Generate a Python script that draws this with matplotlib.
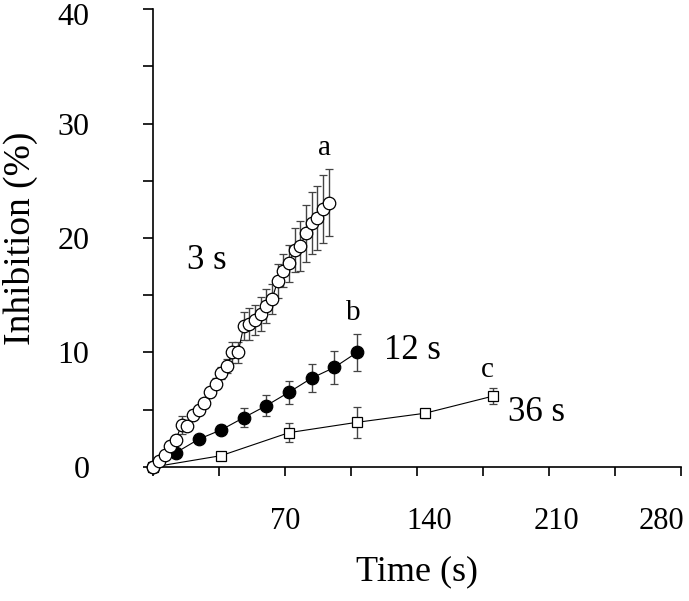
import numpy as np
import matplotlib
matplotlib.use("Agg")
import matplotlib.pyplot as plt
from matplotlib.transforms import ScaledTranslation

plt.rcParams['font.family'] = ['Liberation Serif', 'DejaVu Serif']

# 3 s sampling (open circles)
t_3s = [0, 3, 6, 9, 12, 15, 18, 21, 24, 27, 30, 33, 36, 39, 42, 45, 48, 51,
        54, 57, 60, 63, 66, 69, 72, 75, 78, 81, 84, 87, 90, 93]
v_3s = [0, 0.49, 1.02, 1.86, 2.39, 3.69, 3.61, 4.57, 5.0, 5.58, 6.54, 7.27,
        8.2, 8.84, 10.0, 10.0, 12.33, 12.45, 12.86, 13.38, 14.08, 14.66,
        16.26, 17.16, 17.8, 18.96, 19.31, 20.42, 21.29, 21.73, 22.51, 23.09]
e_3s = [0, 0.3, 0.3, 0.4, 0.4, 0.8, 0.4, 0.4, 0.4, 0.4, 0.4, 0.5, 0.5, 0.6,
        0.9, 0.9, 1.2, 1.4, 1.3, 1.5, 1.5, 1.3, 1.5, 1.4, 1.6, 1.9, 2.2,
        2.5, 2.7, 2.8, 2.95, 2.95]

# 12 s sampling (filled circles)
t_12s = [0, 12, 24, 36, 48, 60, 72, 84, 96, 108]
v_12s = [0, 1.25, 2.42, 3.24, 4.31, 5.36, 6.53, 7.76, 8.69, 10.0]
e_12s = [0, 0.2, 0.2, 0.4, 0.85, 0.95, 1.0, 1.25, 1.4, 1.65]

# 36 s sampling (open squares)
t_36s = [0, 36, 72, 108, 144, 180]
v_36s = [0, 0.99, 3.0, 3.9, 4.69, 6.18]
e_36s = [0, 0.2, 0.85, 1.33, 0.4, 0.7]

x_ticks = [0, 35, 70, 105, 140, 175, 210, 245, 280]
x_labels = ['', '', '70', '', '140', '', '210', '', '280']
y_ticks = [0, 10, 20, 30, 40]

fig = plt.figure(figsize=(6.89, 6.01), dpi=100)
ax = fig.add_axes([0.2225, 0.223, 0.766, 0.762])

err_kw = dict(ecolor='#444444', elinewidth=1.0, capsize=2.8, capthick=1.0)

ax.errorbar(t_36s, v_36s, yerr=e_36s, fmt='s-', color='black', lw=0.8,
            ms=7, mfc='white', mec='black', mew=0.9, clip_on=False, zorder=3, **err_kw)
ax.errorbar(t_12s, v_12s, yerr=e_12s, fmt='o-', color='black', lw=0.8,
            ms=9, mfc='black', mec='black', mew=0.9, clip_on=False, zorder=4, **err_kw)
ax.errorbar(t_3s, v_3s, yerr=e_3s, fmt='o-', color='black', lw=0.8,
            ms=9, mfc='white', mec='black', mew=0.9, clip_on=False, zorder=5, **err_kw)

ax.set_xlim(0, 280)
ax.set_ylim(0, 40)

ax.spines['top'].set_visible(False)
ax.spines['right'].set_visible(False)
ax.spines['left'].set_linewidth(1.2)
ax.spines['bottom'].set_linewidth(1.2)

ax.set_xticks(x_ticks)
ax.set_xticklabels(x_labels)
ax.set_yticks(y_ticks)
ax.set_yticks([5, 15, 25, 35], minor=True)
ax.tick_params(axis='x', length=6.5, width=1.2, pad=22, labelsize=22)
ax.tick_params(axis='y', which='both', length=7, width=1.2, pad=39, labelsize=23)

# the reference nudges some tick labels off their ticks (280 and 40 sit inside the edge)
x_shift_px = {'140': 12, '210': 7, '280': -20}
for lab in ax.get_xticklabels():
    dx = x_shift_px.get(lab.get_text(), 0)
    if dx:
        lab.set_transform(lab.get_transform() + ScaledTranslation(dx / 100, 0, fig.dpi_scale_trans))
for lab in ax.get_yticklabels():
    if lab.get_text() == '40':
        lab.set_transform(lab.get_transform() + ScaledTranslation(0, -5 / 100, fig.dpi_scale_trans))

ax.set_xlabel('Time (s)', fontsize=26, labelpad=14)
ax.set_ylabel('Inhibition (%)', fontsize=27, labelpad=14)

ax.text(91, 27.9, 'a', fontsize=21, ha='center', va='center')
ax.text(106, 13.45, 'b', fontsize=21, ha='center', va='center')
ax.text(177, 8.47, 'c', fontsize=21, ha='center', va='center')
ax.text(28.5, 18.0, '3 s', fontsize=25, ha='center', va='center')
ax.text(137.7, 10.2, '12 s', fontsize=25, ha='center', va='center')
ax.text(203.4, 4.8, '36 s', fontsize=25, ha='center', va='center')

fig.savefig('out.png', dpi=100)
